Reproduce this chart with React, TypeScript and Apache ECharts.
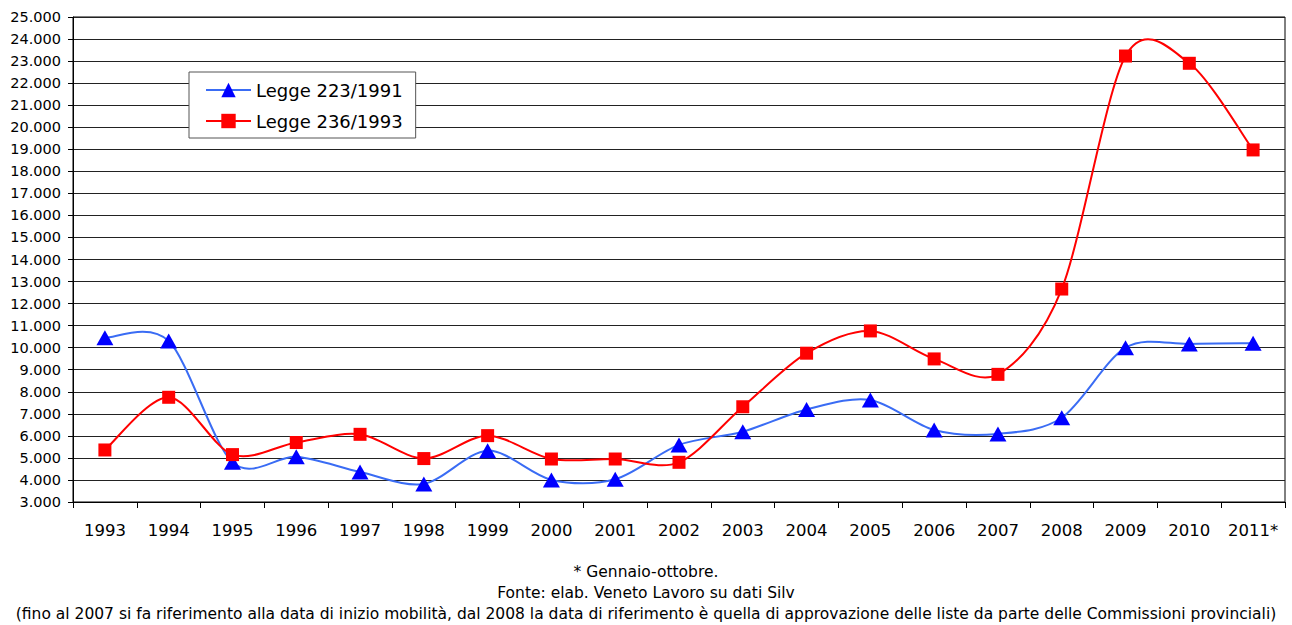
import React, { useEffect, useRef } from "react";
import * as echarts from "echarts";

const categories = ["1993","1994","1995","1996","1997","1998","1999","2000","2001","2002","2003","2004","2005","2006","2007","2008","2009","2010","2011*"];
const legge223 = [10450,10300,4800,5050,4360,3820,5330,4000,4030,5590,6190,7200,7630,6270,6090,6820,10000,10170,10200];
const legge236 = [5360,7750,5150,5700,6070,4970,6010,4950,4950,4800,7320,9750,10760,9490,8790,12660,23230,22900,18970];
const footerLines = [
  "* Gennaio-ottobre.",
  "Fonte: elab. Veneto Lavoro su dati Silv",
  "(fino al 2007 si fa riferimento alla data di inizio mobilità, dal 2008 la data di riferimento è quella di approvazione delle liste da parte delle Commissioni provinciali)",
];

const FONT = "DejaVu Sans";
const BLUE_LINE = "#3a6cf4";
const BLUE_MARK = "#0000ff";
const RED = "#ff0000";
const TENSION = 1 / 6.5;

function curveSeries(name: string, values: number[], color: string, z: number) {
  return {
    name,
    type: "custom",
    data: [[0, values[0]]],
    silent: true,
    z,
    clip: false,
    renderItem: (_params: any, api: any) => {
      const pts = values.map((v, i) => api.coord([i, v]));
      const n = pts.length;
      let d = `M${pts[0][0]},${pts[0][1]}`;
      for (let i = 0; i < n - 1; i++) {
        const p0 = pts[Math.max(i - 1, 0)];
        const p1 = pts[i];
        const p2 = pts[i + 1];
        const p3 = pts[Math.min(i + 2, n - 1)];
        const c1x = p1[0] + (p2[0] - p0[0]) * TENSION;
        const c1y = p1[1] + (p2[1] - p0[1]) * TENSION;
        const c2x = p2[0] - (p3[0] - p1[0]) * TENSION;
        const c2y = p2[1] - (p3[1] - p1[1]) * TENSION;
        d += ` C${c1x},${c1y} ${c2x},${c2y} ${p2[0]},${p2[1]}`;
      }
      return {
        type: "path",
        shape: { pathData: d },
        style: { fill: "none", stroke: color, lineWidth: 2 },
      };
    },
  };
}

export default function App() {
  const ref = useRef<HTMLDivElement>(null);
  useEffect(() => {
    if (!ref.current) return;
    const chart = echarts.init(ref.current, null, { renderer: "svg" });
    chart.setOption({
      animation: false,
      backgroundColor: "#fff",
      textStyle: { fontFamily: FONT },
      grid: { left: 73, right: 7, top: 17, bottom: 123, show: true, borderColor: "#000", borderWidth: 1, backgroundColor: "transparent" },
      legend: {
        orient: "vertical",
        left: 189,
        top: 72,
        backgroundColor: "#fff",
        borderColor: "#555",
        borderWidth: 1,
        padding: [9, 13, 8, 16],
        itemGap: 13,
        itemWidth: 45,
        itemHeight: 18,
        textStyle: { fontFamily: FONT, fontSize: 18, color: "#000" },
        data: [
          { name: "Legge 223/1991", lineStyle: { color: BLUE_LINE, width: 2, opacity: 1 } },
          { name: "Legge 236/1993", lineStyle: { color: RED, width: 2, opacity: 1 } },
        ],
      },
      xAxis: {
        type: "category",
        data: categories,
        boundaryGap: true,
        axisLine: { lineStyle: { color: "#000", width: 1 } },
        axisTick: { show: true, length: 6, lineStyle: { color: "#000" } },
        axisLabel: { color: "#000", fontSize: 16.5, fontFamily: FONT, margin: 20, interval: 0 },
      },
      yAxis: {
        type: "value",
        min: 3000,
        max: 25000,
        interval: 1000,
        axisLine: { show: true, lineStyle: { color: "#000" } },
        axisTick: { show: true, length: 5, lineStyle: { color: "#000" } },
        splitLine: { lineStyle: { color: "#222", width: 1 } },
        axisLabel: {
          color: "#000",
          fontSize: 14.5,
          fontFamily: FONT,
          margin: 12,
          formatter: (v: number) => String(v).replace(/(\d)(\d{3})$/, "$1.$2"),
        },
      },
      series: [
        curveSeries("curve223", legge223, BLUE_LINE, 2),
        curveSeries("curve236", legge236, RED, 2),
        {
          name: "Legge 223/1991",
          type: "line",
          data: legge223,
          symbol: "triangle",
          symbolSize: [17, 15],
          lineStyle: { color: BLUE_LINE, width: 2, opacity: 0 },
          itemStyle: { color: BLUE_MARK },
          z: 3,
        },
        {
          name: "Legge 236/1993",
          type: "line",
          data: legge236,
          symbol: "rect",
          symbolSize: 13,
          lineStyle: { color: RED, width: 2, opacity: 0 },
          itemStyle: { color: RED },
          z: 4,
        },
      ],
      graphic: footerLines.map((t, i) => ({
        type: "text",
        left: "center",
        top: 564 + i * 21,
        style: { text: t, fontSize: 15.5, fontFamily: FONT, fill: "#000" },
      })),
    });
    return () => chart.dispose();
  }, []);
  return <div ref={ref} style={{ width: 1292, height: 625, position: "absolute", left: 0, top: 0 }} />;
}
